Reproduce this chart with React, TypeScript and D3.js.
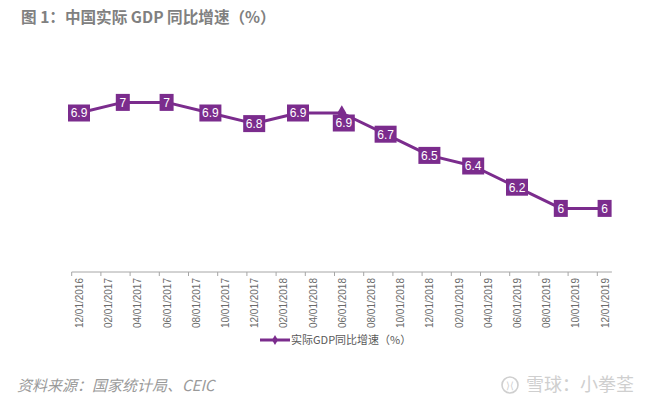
import React from "react";
import * as d3 from "d3";

const tickLabels = [
  "12/01/2016", "02/01/2017", "04/01/2017", "06/01/2017", "08/01/2017", "10/01/2017",
  "12/01/2017", "02/01/2018", "04/01/2018", "06/01/2018", "08/01/2018", "10/01/2018",
  "12/01/2018", "02/01/2019", "04/01/2019", "06/01/2019", "08/01/2019", "10/01/2019",
  "12/01/2019",
];
const pointDates = [
  "2016-12", "2017-03", "2017-06", "2017-09", "2017-12", "2018-03", "2018-06",
  "2018-09", "2018-12", "2019-03", "2019-06", "2019-09", "2019-12",
];
const gdpValues = [6.9, 7, 7, 6.9, 6.8, 6.9, 6.9, 6.7, 6.5, 6.4, 6.2, 6, 6];
const labelBelow = [false, false, false, false, false, false, true, false, false, false, false, false, false];

const seriesName = "实际GDP同比增速（%）";
const title = "图 1：中国实际 GDP 同比增速（%）";
const source = "资料来源：国家统计局、CEIC";
const watermark = "雪球：小拳荃";

const PURPLE = "#7b2c8d";
const CJK = "'Noto Sans CJK SC', 'Noto Sans', sans-serif";

function monthIndex(s: string) {
  const [y, m] = s.split("-").map(Number);
  return (y - 2016) * 12 + (m - 12);
}

export default function App() {
  const W = 660, H = 406;
  const totalMonths = 37;
  const x = d3.scaleLinear().domain([0, totalMonths]).range([71.7, 611.9]);
  const y = d3.scaleLinear().domain([5.4, 7.4]).range([272, 60]);
  const axisY = y(5.4);

  const pts = pointDates.map((d, i) => ({
    x: x(monthIndex(d) + 0.5),
    y: y(gdpValues[i]),
    v: gdpValues[i],
    below: labelBelow[i],
  }));
  const line = d3.line<{ x: number; y: number }>().x((d) => d.x).y((d) => d.y);
  const diamond = d3.symbol().type(d3.symbolDiamond).size(70)() as string;
  const smallDiamond = d3.symbol().type(d3.symbolDiamond).size(30)() as string;

  return (
    <svg
      width={W}
      height={H}
      style={{ position: "fixed", left: 0, top: 0, background: "#fff" }}
    >
      <rect width={W} height={H} fill="#fff" />
      <text x={21} y={23} fontFamily={CJK} fontSize={15.6} fontWeight={700} fill="#808080">
        {title}
      </text>

      {/* axis */}
      <line x1={x(0)} x2={x(totalMonths)} y1={axisY} y2={axisY} stroke="#a6a6a6" strokeWidth={1} />
      {tickLabels.map((t, i) => {
        const tx = x(i * 2);
        const lx = x(i * 2 + 0.5) + 0.5;
        return (
          <g key={t}>
            <line x1={tx} x2={tx} y1={axisY} y2={axisY + 4} stroke="#a6a6a6" strokeWidth={1} />
            <text
              transform={`translate(${lx},${278}) rotate(-90)`}
              textAnchor="end"
              dy="0.35em"
              fontFamily="'Liberation Sans', Arial, sans-serif"
              fontSize={10}
              fill="#6a6a6a"
            >
              {t}
            </text>
          </g>
        );
      })}

      {/* series */}
      <path d={line(pts) || ""} fill="none" stroke={PURPLE} strokeWidth={3} strokeLinejoin="round" />
      {pts.map((p, i) => (
        <path key={"m" + i} d={diamond} transform={`translate(${p.x},${p.y})`} fill={PURPLE} />
      ))}
      {pts.map((p, i) => {
        const s = String(p.v);
        const w = 10 + 4 * s.length;
        const h = 17;
        const cx = p.x + (p.below ? 2 : 0);
        const cy = p.y + (p.below ? 10 : 0);
        return (
          <g key={"l" + i}>
            <rect x={cx - w / 2} y={cy - h / 2} width={w} height={h} fill={PURPLE} />
            <text
              x={cx}
              y={cy}
              dy="0.36em"
              textAnchor="middle"
              fontFamily="'Liberation Sans Narrow', 'Arial Narrow', sans-serif"
              fontSize={12}
              fill="#fff"
            >
              {s}
            </text>
          </g>
        );
      })}

      {/* legend */}
      <line x1={260} x2={290} y1={340} y2={340} stroke={PURPLE} strokeWidth={3} />
      <path d={smallDiamond} transform="translate(275,340)" fill={PURPLE} />
      <text x={291} y={344} fontFamily={CJK} fontSize={11} fill="#595959">
        {seriesName}
      </text>

      {/* footer */}
      <text x={17} y={391} fontFamily={CJK} fontSize={15} fontStyle="italic" fill="#9a9a9a">
        {source}
      </text>
      <g>
        <circle cx={510} cy={385} r={8} fill="none" stroke="#cfcfcf" strokeWidth={1.6} />
        <text x={510} y={389} textAnchor="middle" fontFamily="sans-serif" fontSize={10} fill="#cfcfcf">
          ⟩⟨
        </text>
        <text x={526} y={391} fontFamily={CJK} fontSize={18} fill="#cfcfcf">
          {watermark}
        </text>
      </g>
    </svg>
  );
}
